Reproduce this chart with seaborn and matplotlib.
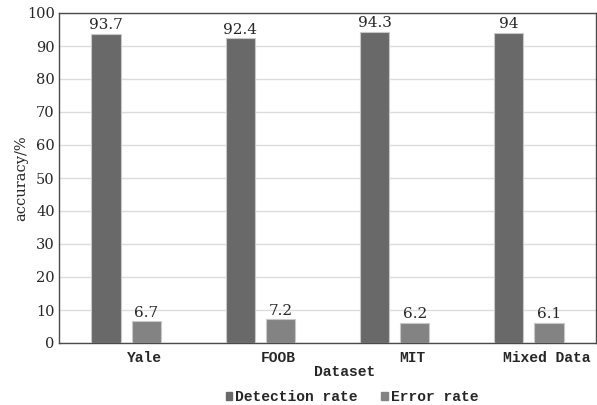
import matplotlib
matplotlib.use('Agg')
import matplotlib.pyplot as plt
import matplotlib.transforms as mtransforms
from matplotlib.patches import Patch
import seaborn as sns
import pandas as pd

# donnees
datasets = ['Yale', 'FOOB', 'MIT', 'Mixed Data']
detection_rate = [93.7, 92.4, 94.3, 94]
error_rate = [6.7, 7.2, 6.2, 6.1]
series = ['Detection rate', 'Error rate']
colors = ['#696969', '#838383']

df = pd.DataFrame({
    'Dataset': datasets * 2,
    'serie': [series[0]] * 4 + [series[1]] * 4,
    'accuracy': detection_rate + error_rate,
})

sns.set_style('white')
plt.rcParams['font.family'] = ['DejaVu Serif']

fig = plt.figure(figsize=(5.97, 4.05), dpi=100)
ax = fig.add_axes([59 / 597, 1 - 343 / 405, 537 / 597, 330 / 405])

sns.barplot(data=df, x='Dataset', y='accuracy', hue='serie', palette=colors,
            width=0.6, gap=0.27, edgecolor='#c8c8c8', linewidth=0.8,
            legend=False, ax=ax, zorder=3)

# etiquettes de valeurs au-dessus des barres
for cont in ax.containers:
    ax.bar_label(cont, labels=[f"{v:g}" for v in cont.datavalues],
                 fontsize=11, padding=1)

ax.set_ylim(0, 100)
ax.set_yticks(range(0, 101, 10))
ax.tick_params(axis='y', labelsize=10.5, length=0, pad=3)
ax.tick_params(axis='x', length=0, pad=6)
ax.grid(axis='y', color='#dcdcdc', linewidth=1, zorder=0)
for s in ax.spines.values():
    s.set_color('#4a4a4a')
    s.set_linewidth(1)

# labels x decales vers la droite comme dans l'original
offset = mtransforms.ScaledTranslation(0.18, 0, fig.dpi_scale_trans)
for lab in ax.get_xticklabels():
    lab.set_fontfamily('Liberation Mono')
    lab.set_fontweight('bold')
    lab.set_fontsize(10.5)
    lab.set_transform(lab.get_transform() + offset)

ax.set_xlabel('Dataset', family='Liberation Mono', fontweight='bold', fontsize=10.5)
ax.xaxis.set_label_coords((345 - 59) / 537, -(372 - 343) / 330)
ax.xaxis.label.set_va('center')
ax.set_ylabel('accuracy/%', fontsize=10.5)
ax.yaxis.set_label_coords(-(59 - 21) / 537, 0.5)
ax.yaxis.label.set_va('center')

handles = [Patch(facecolor=c, edgecolor=c) for c in colors]
fig.legend(handles, series, loc='center', bbox_to_anchor=(352 / 597, 1 - 397 / 405),
           ncol=2, frameon=False, handlelength=0.45, handleheight=0.45,
           handletextpad=0.2, columnspacing=1.6,
           prop={'family': 'Liberation Mono', 'weight': 'bold', 'size': 10.5})

plt.savefig('out.png', dpi=100)
